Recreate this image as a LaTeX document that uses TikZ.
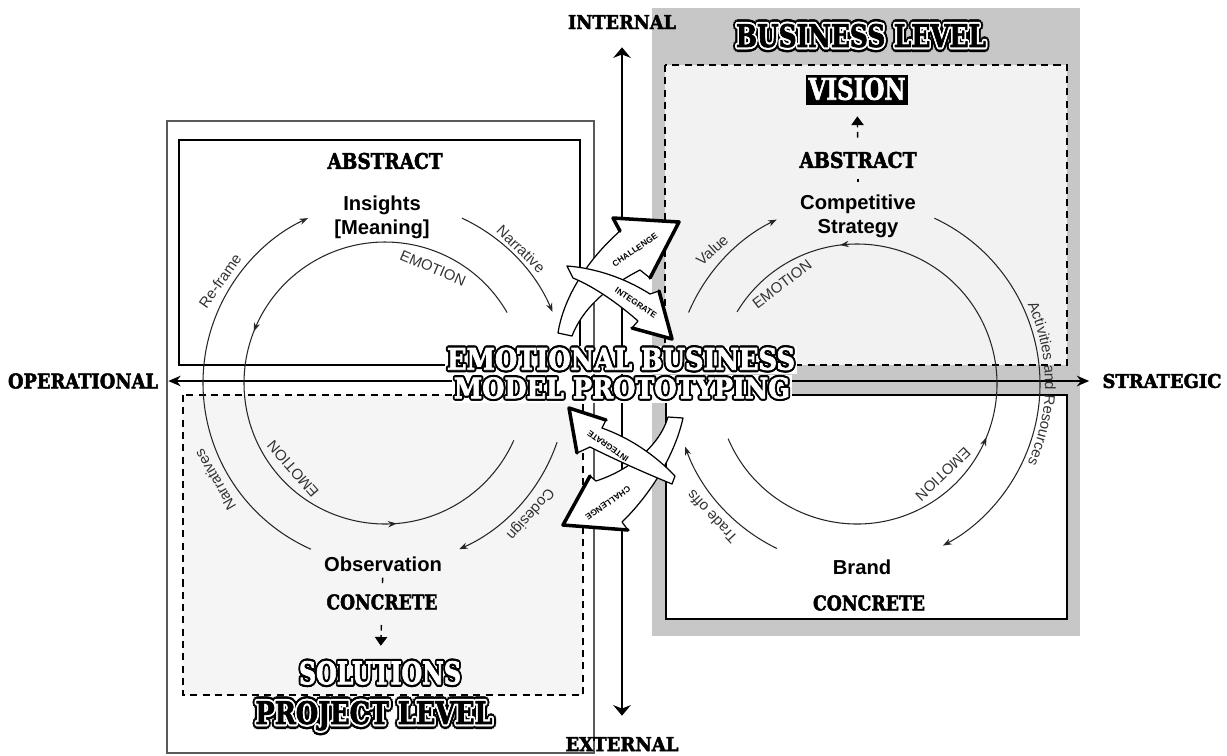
\documentclass[tikz,border=0pt]{standalone}
\usepackage{fontspec}
\setmainfont{Liberation Sans}
\newfontfamily\heavyfont{DejaVu Serif}[BoldFeatures={FakeBold=2.5}]
\usepackage[copies]{contour}
\contournumber{12}
\usetikzlibrary{arrows.meta,decorations.markings,decorations.text}

\newlength\px
\setlength\px{0.02cm}
% plain heavy label, white label with black rim, black label with white and black rims
\newcommand\heavy[3]{\resizebox{#1\px}{#2\px}{\heavyfont\bfseries #3}}
\newcommand\hollow[3]{\resizebox{#1\px}{#2\px}{\heavyfont\bfseries\contourlength{0.75pt}\contour{black}{\textcolor{white}{#3}}}}
\newcommand\doubled[3]{\resizebox{#1\px}{#2\px}{\heavyfont\bfseries\contourlength{1.5pt}\rlap{\contour{black}{#3}}\contourlength{0.65pt}\contour{white}{#3}}}

\begin{document}
\begin{tikzpicture}[
    x=0.02cm, y=-0.02cm,
    >={Stealth[length=5pt,width=3.6pt]},
    flow/.style={line width=0.6pt, black!85},
    emo/.style 2 args={flow, postaction=decorate, decoration={markings,
        mark=at position #1 with {\arrow{>}},
        mark=at position #2 with {\arrow{>}}}},
    arclabel/.style={font=\fontsize{8.5}{9}\selectfont, text=black!80, inner sep=0pt},
    stage/.style={font=\fontsize{11.5}{13.5}\selectfont\bfseries, align=center, inner sep=1pt},
    heading/.style={inner sep=0pt},
    dashbox/.style={draw, dash pattern=on 4pt off 3pt, line width=0.8pt},
    solidbox/.style={draw, line width=1.1pt},
    axisH/.style={line width=0.9pt, {Stealth[length=7pt,width=6pt]}-{Stealth[length=7pt,width=6pt]}},
    axisV/.style={line width=0.9pt, {Stealth[length=6pt,width=10pt]}-{Stealth[length=6pt,width=10pt]}},
    blk/.style={fill=white, draw, line width=0.7pt, line join=round},
    blkedge/.style={line width=2pt, line join=round, line cap=round},
    tag/.style={font=\fontsize{4.8}{5}\selectfont\bfseries, inner sep=0pt},
    tick/.style={line width=0.8pt},
    rise/.style={dash pattern=on 3.2pt off 2.6pt, line width=0.8pt, -{Triangle[length=5pt,width=7pt]}}
]
\useasboundingbox (0,0) rectangle (1227,755);
\fill[white] (0,0) rectangle (1227,755);

% levels and frames
\fill[black!22] (652,8) rectangle (1080,636);
\draw[dashbox, fill=black!5] (665,65) rectangle (1067,365);
\draw[solidbox, fill=white] (666,395) rectangle (1067,619);
\draw[black!65, line width=0.6pt] (167,121) rectangle (594,753);
\draw[solidbox, fill=white] (179,140) rectangle (580,365);
\draw[dashbox, fill=black!4] (183,395) rectangle (583,695);

% axes
\node[heading] (operational) at (83,381) {\heavy{150}{15}{OPERATIONAL}};
\node[heading] (strategic) at (1162,381) {\heavy{119}{14}{STRATEGIC}};
\node[heading] (internal) at (622,22) {\heavy{108}{14}{INTERNAL}};
\node[heading] (external) at (622,744) {\heavy{113}{14}{EXTERNAL}};
\draw[axisH, shorten <=0.2cm, shorten >=0.26cm] (operational) -- (strategic);
\draw[axisV, shorten <=0.36cm, shorten >=0.42cm] (internal) -- (external);

% project level loop
\coordinate (cL) at (385,383);
\draw[flow,->] (cL) ++(246:3.64cm) arc[start angle=246, end angle=115, radius=3.64cm];
\draw[flow,->] (cL) ++(65:3.64cm) arc[start angle=65, end angle=23, radius=3.64cm];
\draw[flow,->] (cL) ++(-19:3.64cm) arc[start angle=-19, end angle=-66, radius=3.64cm];
\draw[emo={0.42}{0.8}] (cL) ++(30:2.82cm) arc[start angle=30, end angle=336, radius=2.82cm];

% business level loop
\coordinate (cR) at (857,384);
\draw[flow,->] (cR) ++(157:3.66cm) arc[start angle=157, end angle=116, radius=3.66cm];
\draw[flow,->] (cR) ++(65:3.66cm) arc[start angle=65, end angle=-62, radius=3.66cm];
\draw[flow,->] (cR) ++(244:3.66cm) arc[start angle=244, end angle=200, radius=3.66cm];
\draw[emo={0.44}{0.83}] (cR) ++(203:2.8cm) arc[start angle=203, end angle=509, radius=2.8cm];
\path[decorate, decoration={text along path, text align=center,
    text={|\fontsize{8.5}{9}\selectfont\color{black!80}|Activities and Resources}}]
    (cR) ++(40:3.76cm) arc[start angle=40, end angle=-40, radius=3.76cm];

\node[arclabel, rotate=55] (reframe) at (220,281) {Re-frame};
\node[arclabel, rotate=-44] (narrative) at (521,249) {Narrative};
\node[arclabel, rotate=120] (narratives) at (215,480) {Narratives};
\node[arclabel, rotate=228] (codesign) at (530,514) {Codesign};
\node[arclabel, rotate=-23] (emoLA) at (433,268) {EMOTION};
\node[arclabel, rotate=131] (emoLB) at (293,469) {EMOTION};
\node[arclabel, rotate=42] (value) at (712,250) {Value};
\node[arclabel, rotate=37] (emoRA) at (782,284) {EMOTION};
\node[arclabel, rotate=224] (emoRB) at (943,474) {EMOTION};
\node[arclabel, rotate=133] (tradeoffs) at (712,517) {Trade offs};

% stages
\node[stage] (insights) at (382,217) {Insights\\{[Meaning]}};
\node[stage] (strategy) at (858,216) {Competitive\\Strategy};
\node[stage] (observation) at (383,564) {Observation};
\node[stage] (brand) at (862,567) {Brand};

\node[heading] (abstractL) at (385,161) {\heavy{115}{16}{ABSTRACT}};
\node[heading] (abstractR) at (858,160) {\heavy{117}{16}{ABSTRACT}};
\node[heading] (concreteL) at (382,602) {\heavy{111}{15}{CONCRETE}};
\node[heading] (concreteR) at (869,603) {\heavy{112}{15}{CONCRETE}};
\node[heading, fill=black, inner sep=1.5pt] (vision) at (857,90) {\hollow{97}{22}{VISION}};
\node[heading] (solutions) at (380,674) {\hollow{162}{23}{SOLUTIONS}};
\node[heading] (buslevel) at (861,38) {\doubled{250}{23}{BUSINESS LEVEL}};
\node[heading] (projlevel) at (374,718) {\doubled{237}{23}{PROJECT LEVEL}};

\draw[tick, shorten <=0.2cm, shorten >=0.22cm] (abstractR) -- (strategy);
\draw[rise, shorten <=0.28cm, shorten >=0.22cm] (abstractR) -- (vision);
\draw[tick, shorten <=0.08cm, shorten >=0.22cm] (observation) -- (concreteL);
\draw[rise, shorten <=0.3cm, shorten >=0.3cm] (concreteL) -- (solutions);

% challenge / integrate arrows, upper pair
\draw[blk] (558,333) .. controls (563,300) and (585,262) .. (620,231) -- (613,218) -- (679,222)
    -- (650,278) -- (640,270) .. controls (605,288) and (582,310) .. (572,336) -- cycle;
\draw[blkedge] (620,231) -- (613,218) -- (679,222) -- (650,278);
\node[tag, rotate=34] (challengeUp) at (635,250) {CHALLENGE};
\draw[blk] (567,266) .. controls (595,268) and (625,278) .. (650,294) -- (659,291) -- (672,339)
    -- (632,328) -- (638,321) .. controls (620,305) and (595,287) .. (573,278) -- cycle;
\draw[blkedge] (659,291) -- (672,339) -- (632,328);
\node[tag, rotate=-34] (integrateUp) at (636,303) {INTEGRATE};

% lower pair
\draw[blk] (668,417) .. controls (660,445) and (630,470) .. (596,481) -- (590,476) -- (563,525)
    -- (628,530) -- (622,522) .. controls (650,495) and (675,455) .. (683,418) -- cycle;
\draw[blkedge] (590,476) -- (563,525) -- (628,530);
\node[tag, rotate=215] (challengeDown) at (608,503) {CHALLENGE};
\draw[blk] (675,476) .. controls (655,455) and (630,438) .. (602,428) -- (606,420) -- (569,408)
    -- (577,453) -- (590,447) .. controls (620,462) and (650,475) .. (672,484) -- cycle;
\draw[blkedge] (606,420) -- (569,408) -- (577,453);
\node[tag, rotate=145] (integrateDown) at (608,446) {INTEGRATE};

% title
\node[heading, fill=white, inner sep=1pt] (title1) at (621,360) {\hollow{348}{22}{EMOTIONAL BUSINESS}};
\node[heading, fill=white, inner sep=1pt] (title2) at (622,389) {\hollow{336}{21}{MODEL PROTOTYPING}};
\end{tikzpicture}
\end{document}
